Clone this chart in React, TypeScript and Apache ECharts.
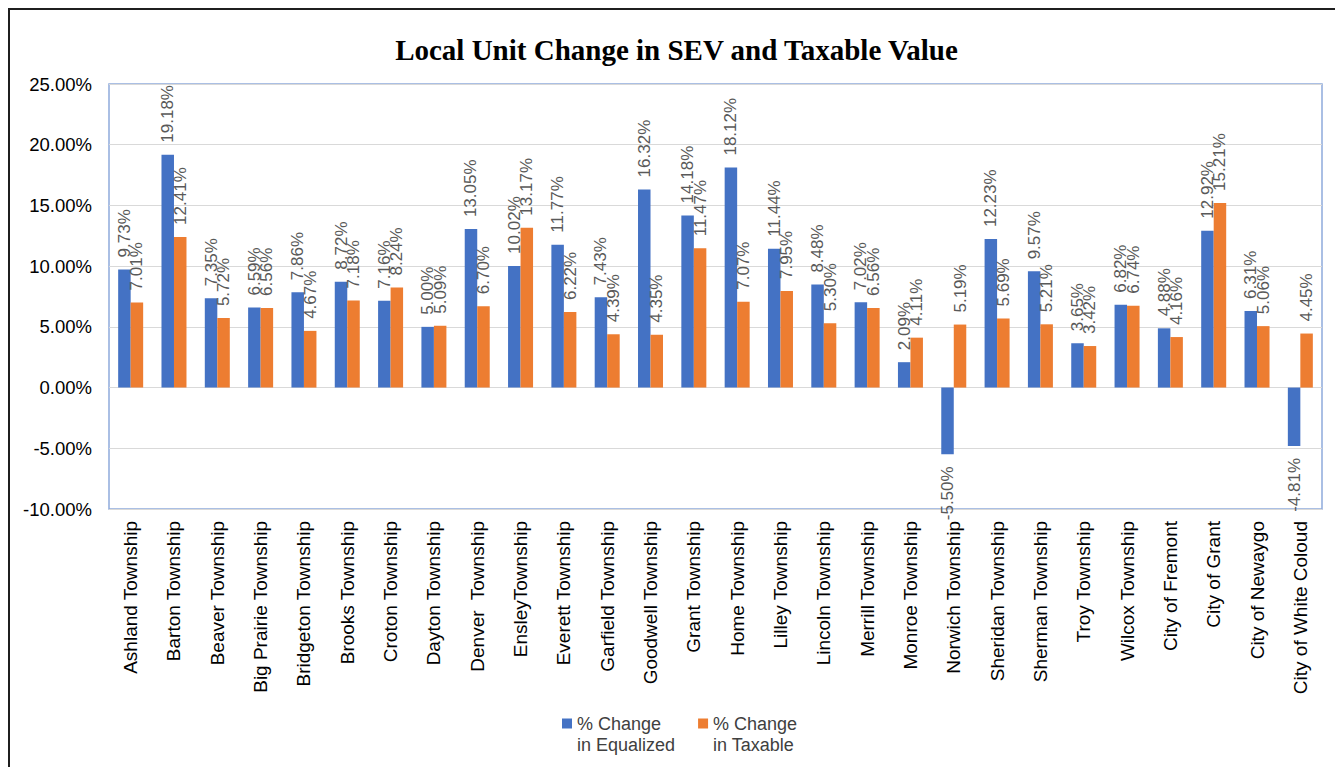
import React, { useEffect, useRef } from "react";
import * as echarts from "echarts";

const titleText = "Local Unit Change in SEV and Taxable Value";

const categories = [
  "Ashland Township",
  "Barton Township",
  "Beaver Township",
  "Big Prairie Township",
  "Bridgeton Township",
  "Brooks Township",
  "Croton Township",
  "Dayton Township",
  "Denver  Township",
  "EnsleyTownship",
  "Everett Township",
  "Garfield Township",
  "Goodwell Township",
  "Grant Township",
  "Home Township",
  "Lilley Township",
  "Lincoln Township",
  "Merrill Township",
  "Monroe Township",
  "Norwich Township",
  "Sheridan Township",
  "Sherman Township",
  "Troy Township",
  "Wilcox Township",
  "City of Fremont",
  "City of Grant",
  "City of Newaygo",
  "City of White Coloud",
];

const equalized = [
  9.73, 19.18, 7.35, 6.59, 7.86, 8.72, 7.16, 5.0, 13.05, 10.02, 11.77, 7.43,
  16.32, 14.18, 18.12, 11.44, 8.48, 7.02, 2.09, -5.5, 12.23, 9.57, 3.65, 6.82,
  4.88, 12.92, 6.31, -4.81,
];

const taxable = [
  7.01, 12.41, 5.72, 6.56, 4.67, 7.18, 8.24, 5.09, 6.7, 13.17, 6.22, 4.39,
  4.35, 11.47, 7.07, 7.95, 5.3, 6.56, 4.11, 5.19, 5.69, 5.21, 3.42, 6.74,
  4.16, 15.21, 5.06, 4.45,
];

const seriesNames = ["% Change\nin Equalized", "% Change\nin Taxable"];
const seriesColors = ["#4472C4", "#ED7D31"];

const yMin = -10;
const yMax = 25;
const yInterval = 5;

const pct = (v: number) => v.toFixed(2) + "%";

function toItems(values: number[]) {
  return values.map((v) =>
    v < 0
      ? {
          value: v,
          label: { position: "bottom", align: "right" },
        }
      : { value: v }
  );
}

export default function App() {
  const ref = useRef<HTMLDivElement>(null);

  useEffect(() => {
    if (!ref.current) return;
    const chart = echarts.init(ref.current, undefined, { renderer: "svg" });
    const labelCommon = {
      show: true,
      position: "top",
      rotate: 90,
      align: "left",
      verticalAlign: "middle",
      distance: 12,
      color: "#595959",
      fontFamily: "Liberation Sans",
      fontSize: 17,
      formatter: (p: any) => pct(p.value),
    };
    chart.setOption({
      animation: false,
      backgroundColor: "#ffffff",
      title: {
        text: titleText,
        left: "center",
        top: 20,
        textStyle: {
          fontFamily: "Liberation Serif",
          fontWeight: "bold",
          fontSize: 29,
          color: "#000000",
        },
      },
      legend: {
        left: 547,
        top: 677,
        itemWidth: 10,
        itemHeight: 10,
        itemGap: 23,
        icon: "rect",
        formatter: (name: string) => "\n" + name,
        textStyle: {
          fontFamily: "Liberation Sans",
          fontSize: 18,
          lineHeight: 21,
          color: "#404040",
        },
        data: seriesNames,
      },
      grid: {
        left: 99,
        top: 74,
        right: 21,
        bottom: 258,
        show: true,
        borderColor: "#8FAADC",
        borderWidth: 1.5,
        containLabel: false,
      },
      xAxis: {
        type: "category",
        data: categories,
        axisLine: { show: false },
        axisTick: { show: false },
        axisLabel: {
          interval: 0,
          rotate: 90,
          margin: 12,
          color: "#000000",
          fontFamily: "Liberation Sans",
          fontSize: 19,
        },
      },
      yAxis: {
        type: "value",
        min: yMin,
        max: yMax,
        interval: yInterval,
        axisLine: { show: false },
        axisTick: { show: false },
        splitLine: { lineStyle: { color: "#D9D9D9", width: 1 } },
        axisLabel: {
          margin: 17,
          color: "#000000",
          fontFamily: "Liberation Sans",
          fontSize: 18.5,
          formatter: (v: number) => pct(v),
        },
      },
      series: [
        {
          name: seriesNames[0],
          type: "bar",
          barWidth: 12.5,
          barGap: "0%",
          itemStyle: { color: seriesColors[0] },
          label: labelCommon,
          data: toItems(equalized),
        },
        {
          name: seriesNames[1],
          type: "bar",
          barWidth: 12.5,
          barGap: "0%",
          itemStyle: { color: seriesColors[1] },
          label: labelCommon,
          data: toItems(taxable),
        },
      ],
    });
    return () => chart.dispose();
  }, []);

  return (
    <div style={{ width: 1335, height: 759, overflow: "hidden" }}>
      <div
        style={{
          width: 1400,
          height: 800,
          border: "2px solid #1f1f1f",
          boxSizing: "border-box",
          background: "#ffffff",
        }}
      >
        <div ref={ref} style={{ width: 1333, height: 757 }} />
      </div>
    </div>
  );
}
